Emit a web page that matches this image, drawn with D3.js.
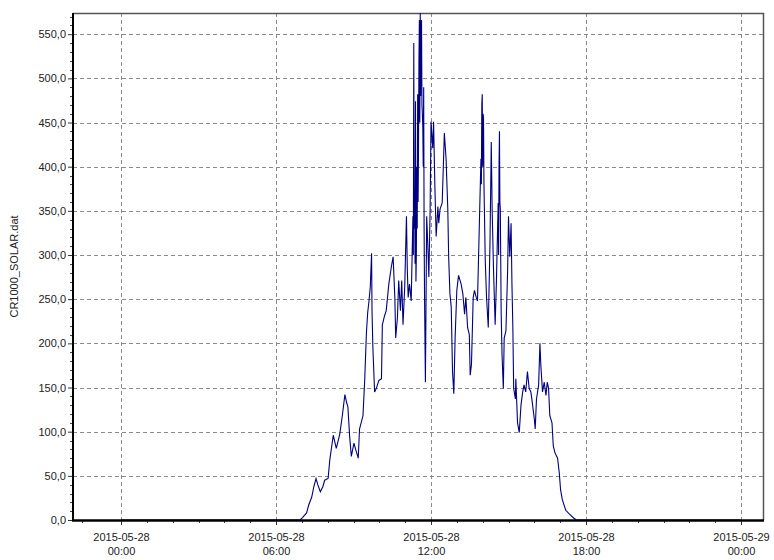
<!DOCTYPE html>
<html>
<head>
<meta charset="utf-8">
<script src="https://cdn.jsdelivr.net/npm/d3@7/dist/d3.min.js"></script>
<style>
  html, body { margin: 0; padding: 0; background: #ffffff; }
  svg { display: block; }
  text { font-family: "Liberation Sans", Arial, sans-serif; }
</style>
</head>
<body>
<svg id="chart" width="774" height="560"></svg>
<script>
// CR1000 datalogger, solar radiation on 2015-05-28
const day = "2015-05-28";
const nextDay = "2015-05-29";
const seriesName = "CR1000_SOLAR.dat";

// sample times (HH:MM) and readings, one row per stretch of the day
const times = [
  "00:00","06:56","07:02","07:11","07:16","07:23","07:28","07:33","07:37","07:43","07:49","07:53",
  "08:01","08:05","08:13","08:20","08:28","08:34","08:40","08:44","08:47","08:51","08:55",
  "09:01","09:05","09:11","09:14","09:22","09:26","09:30","09:33","09:36","09:39","09:42","09:43","09:45","09:49","09:53","09:59",
  "10:05","10:07","10:12","10:16","10:22","10:28","10:32","10:36","10:38","10:42","10:45","10:49","10:52","10:55","10:59",
  "11:03","11:05","11:07","11:10","11:14","11:18","11:19","11:20","11:21","11:22","11:23","11:24","11:25","11:26","11:27",
  "11:28","11:29","11:30","11:31","11:32","11:33","11:34","11:35","11:36","11:37","11:38","11:39","11:40","11:41","11:42",
  "11:43","11:44","11:45","11:47","11:50","11:53","11:55","11:58",
  "12:00","12:04","12:06","12:09","12:12","12:16","12:18","12:21","12:26","12:31","12:35","12:39","12:41","12:44","12:47",
  "12:50","12:53","12:56",
  "13:00","13:04","13:10","13:14","13:18","13:21","13:25","13:29","13:31","13:34","13:38","13:41","13:45","13:48","13:52",
  "13:56","13:57","13:58","13:59","14:00","14:01","14:02","14:03","14:04","14:06","14:09","14:13","14:17","14:20","14:22",
  "14:25","14:29","14:32","14:36","14:37","14:38","14:39","14:40","14:41","14:43","14:45","14:48","14:50","14:54","14:58",
  "15:00","15:03","15:06","15:08","15:10","15:12","15:16","15:17","15:21","15:25","15:29","15:33","15:36","15:40","15:44",
  "15:48","15:52","15:56",
  "16:00","16:02","16:05","16:10","16:13","16:15","16:19","16:23","16:27","16:30","16:33","16:36","16:41","16:44","16:48",
  "16:54","16:58",
  "17:01","17:05","17:13","17:21","17:32","17:38","23:59"
];

const solar = [
  0, 0, 3, 8, 17, 26, 38, 47, 40, 32, 38, 45,
  47, 68, 96, 81, 97, 118, 142, 133, 128, 95, 72,
  87, 80, 70, 103, 118, 158, 212, 235, 248, 264, 302, 237, 195, 145, 149, 158,
  160, 221, 231, 237, 267, 287, 298, 252, 206, 229, 271, 237, 271, 221, 264,
  344, 283, 252, 267, 248, 344, 300, 540, 330, 375, 290, 474, 270, 302, 400,
  330, 482, 360, 420, 520, 566, 450, 574, 480, 560, 566, 470, 459, 444, 400,
  490, 330, 252, 156, 344, 306, 275, 352,
  451, 421, 451, 378, 321, 355, 336, 352, 359, 438, 409, 352, 298, 256, 241,
  168, 143, 206,
  260, 277, 267, 256, 233, 252, 218, 210, 164, 176, 252, 260, 252, 248, 329,
  409, 380, 470, 482, 400, 460, 455, 380, 352, 294, 252, 218, 313, 428, 352,
  287, 221, 271, 359, 300, 400, 440, 360, 352, 233, 187, 149, 206, 214, 283,
  344, 298, 336, 267, 221, 149, 137, 160, 110, 99, 130, 145, 153, 145, 168,
  149, 145, 130,
  114, 103, 137, 153, 200, 176, 145, 156, 141, 156, 149, 118, 110, 84, 76,
  70, 53,
  34, 23, 11, 7, 2, 0, 0
];

const yTicks = [0, 50, 100, 150, 200, 250, 300, 350, 400, 450, 500, 550];
const xTickTimes = [day + " 00:00", day + " 06:00", day + " 12:00", day + " 18:00", nextDay + " 00:00"];

const parse = d3.timeParse("%Y-%m-%d %H:%M");
const data = times.map((t, i) => ({ t: parse(day + " " + t), v: solar[i] }));
const xTicks = xTickTimes.map(parse);

const svg = d3.select("#chart");
const plot = { left: 73, right: 763, top: 13, bottom: 520 };

// the 24 h of the day sit inside the frame with some margin on both sides
const x = d3.scaleTime()
  .domain([parse(day + " 00:00"), parse(nextDay + " 00:00")])
  .range([121, 741]);
const y = d3.scaleLinear().domain([0, 574]).range([plot.bottom, plot.top]);

const gridColor = "#8a8a8a";

// horizontal grid
svg.append("g").selectAll("line")
  .data(yTicks.filter(d => d > 0)).join("line")
  .attr("x1", plot.left).attr("x2", plot.right)
  .attr("y1", d => Math.round(y(d)) + 0.5).attr("y2", d => Math.round(y(d)) + 0.5)
  .attr("stroke", gridColor).attr("stroke-width", 1).attr("stroke-dasharray", "4,3");

// vertical grid
svg.append("g").selectAll("line")
  .data(xTicks).join("line")
  .attr("x1", d => Math.round(x(d)) + 0.5).attr("x2", d => Math.round(x(d)) + 0.5)
  .attr("y1", plot.top).attr("y2", plot.bottom)
  .attr("stroke", gridColor).attr("stroke-width", 1).attr("stroke-dasharray", "4,3");

// frame: thin grey top and right edges
svg.append("path")
  .attr("d", `M${plot.left},${plot.top + 0.5}H${plot.right + 0.5}V${plot.bottom}`)
  .attr("fill", "none").attr("stroke", "#555").attr("stroke-width", 1.5);

// data line
svg.append("path")
  .datum(data)
  .attr("fill", "none")
  .attr("stroke", "#000080")
  .attr("stroke-width", 1.1)
  .attr("stroke-linejoin", "miter")
  .attr("d", d3.line().x(d => x(d.t)).y(d => y(d.v)));

// y axis
const yAxis = d3.axisLeft(y)
  .tickValues(yTicks)
  .tickSize(5)
  .tickPadding(2)
  .tickFormat(d => d3.format(".1f")(d).replace(".", ","));
const gy = svg.append("g").attr("transform", `translate(${plot.left},0)`).call(yAxis);
gy.select(".domain").remove();
gy.selectAll("text").attr("font-size", 11).attr("fill", "#222");
gy.selectAll(".tick line").attr("stroke", "#333");

// y minor ticks every 10
svg.append("g").selectAll("line")
  .data(d3.range(10, 574, 10).filter(d => d % 50 !== 0)).join("line")
  .attr("x1", plot.left - 3).attr("x2", plot.left)
  .attr("y1", d => Math.round(y(d)) + 0.5).attr("y2", d => Math.round(y(d)) + 0.5)
  .attr("stroke", "#444");

// x axis
const xAxis = d3.axisBottom(x)
  .tickValues(xTicks)
  .tickSize(5)
  .tickFormat("");
const gx = svg.append("g").attr("transform", `translate(0,${plot.bottom})`).call(xAxis);
gx.select(".domain").remove();
gx.selectAll(".tick line").attr("stroke", "#333");
const fmtDate = d3.timeFormat("%Y-%m-%d");
const fmtTime = d3.timeFormat("%H:%M");
gx.selectAll(".tick").each(function (d) {
  const g = d3.select(this);
  g.append("text").attr("y", 21).attr("text-anchor", "middle")
    .attr("font-size", 11).attr("fill", "#222").text(fmtDate(d));
  g.append("text").attr("y", 35).attr("text-anchor", "middle")
    .attr("font-size", 11).attr("fill", "#222").text(fmtTime(d));
});

// x minor ticks every 90 minutes
const minorX = d3.timeMinute.every(90).range(parse(day + " 00:00"), parse(nextDay + " 01:00"))
  .filter(d => !xTicks.some(t => +t === +d));
svg.append("g").selectAll("line")
  .data(minorX.concat([d3.timeMinute.offset(parse(day + " 00:00"), -90)]))
  .join("line")
  .attr("x1", d => Math.round(x(d)) + 0.5).attr("x2", d => Math.round(x(d)) + 0.5)
  .attr("y1", plot.bottom).attr("y2", plot.bottom + 3)
  .attr("stroke", "#444")
  .filter(d => x(d) < plot.left || x(d) > plot.right).remove();

// axis lines
svg.append("line")
  .attr("x1", plot.left).attr("x2", plot.left)
  .attr("y1", plot.top).attr("y2", plot.bottom + 1)
  .attr("stroke", "#000").attr("stroke-width", 2);
svg.append("line")
  .attr("x1", plot.left - 1).attr("x2", plot.right + 1)
  .attr("y1", plot.bottom + 0.5).attr("y2", plot.bottom + 0.5)
  .attr("stroke", "#000").attr("stroke-width", 2.5);

// y axis title
svg.append("text")
  .attr("transform", `translate(18,${(plot.top + plot.bottom) / 2}) rotate(-90)`)
  .attr("text-anchor", "middle")
  .attr("font-size", 11).attr("fill", "#222")
  .text(seriesName);
</script>
</body>
</html>
